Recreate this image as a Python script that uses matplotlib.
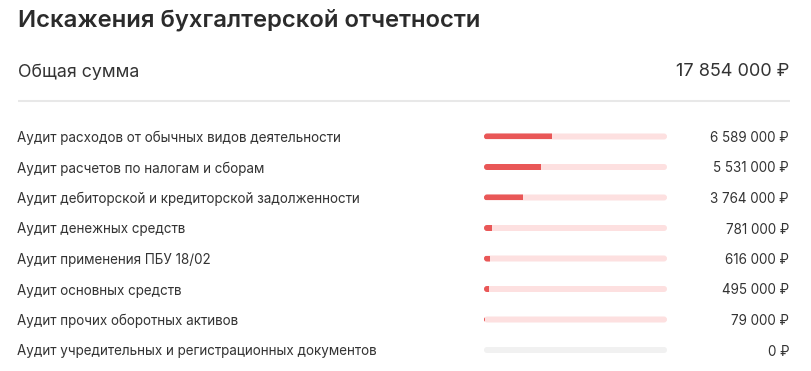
import matplotlib
matplotlib.use('Agg')
import matplotlib.pyplot as plt
from matplotlib.patches import FancyBboxPatch
from matplotlib.transforms import IdentityTransform

plt.rcParams['font.family'] = ['Inter', 'DejaVu Sans']

title = 'Искажения бухгалтерской отчетности'
total_label = 'Общая сумма'
categories = [
    'Аудит расходов от обычных видов деятельности',
    'Аудит расчетов по налогам и сборам',
    'Аудит дебиторской и кредиторской задолженности',
    'Аудит денежных средств',
    'Аудит применения ПБУ 18/02',
    'Аудит основных средств',
    'Аудит прочих оборотных активов',
    'Аудит учредительных и регистрационных документов',
]
values = [6589000, 5531000, 3764000, 781000, 616000, 495000, 79000, 0]
total = 17854000


def rub(v):
    return '{:,}'.format(v).replace(',', ' ') + ' ₽'


W, H = 811, 371
fig = plt.figure(figsize=(W / 100, H / 100), dpi=100)
fig.patch.set_facecolor('white')

# page axes in pixel units
ax = fig.add_axes([0, 0, 1, 1])
ax.set_xlim(0, W)
ax.set_ylim(H, 0)
ax.axis('off')

dark = '#2b2b2b'
txt = '#333333'
ax.text(18, 20, title, fontsize=17.2, fontweight='semibold', color=dark, va='center', ha='left')
ax.text(18, 72, total_label, fontsize=12.8, color=txt, va='center', ha='left')
ax.text(789, 72, rub(total), fontsize=13, color=txt, va='center', ha='right')
ax.plot([18, 790], [101, 101], color='#e8e8e8', lw=1.5, solid_capstyle='butt')

row0, step = 136.5, 30.5
rows = [row0 + i * step for i in range(len(categories))]
for y, name, v in zip(rows, categories, values):
    ax.text(17, y + 1.5, name, fontsize=9.7, color=txt, va='center', ha='left')
    ax.text(789, y + 1.5, rub(v), fontsize=9.7, color=txt, va='center', ha='right')

# bar axes: x = share of total, y = row index
x0, x1 = 484, 667
y_top = rows[0] - step / 2
y_bot = rows[-1] + step / 2
bx = fig.add_axes([x0 / W, 1 - y_bot / H, (x1 - x0) / W, (y_bot - y_top) / H])
n = len(categories)
bx.set_xlim(0, 1)
bx.set_ylim(n - 0.5, -0.5)
bx.axis('off')

h = 6 / step
shares = [v / total for v in values]
fig.canvas.draw()
for i, s in enumerate(shares):
    (ax_, ay_) = bx.transData.transform((0, i + h / 2))
    (bx_, by_) = bx.transData.transform((1, i - h / 2))
    px, py = ax_, min(ay_, by_)
    pw, ph = bx_ - ax_, abs(by_ - ay_)
    track_col = '#fde0e0' if s > 0 else '#f1f1f1'
    track = FancyBboxPatch((px, py), pw, ph, boxstyle='round,pad=0,rounding_size=3',
                           transform=IdentityTransform(), facecolor=track_col,
                           edgecolor='none')
    bx.add_patch(track)
    if s > 0:
        bars = bx.barh([i], [s], height=h, left=0, color='#e95757')
        for b in bars:
            b.set_clip_path(track)

fig.savefig('out.png', dpi=100, facecolor='white')
